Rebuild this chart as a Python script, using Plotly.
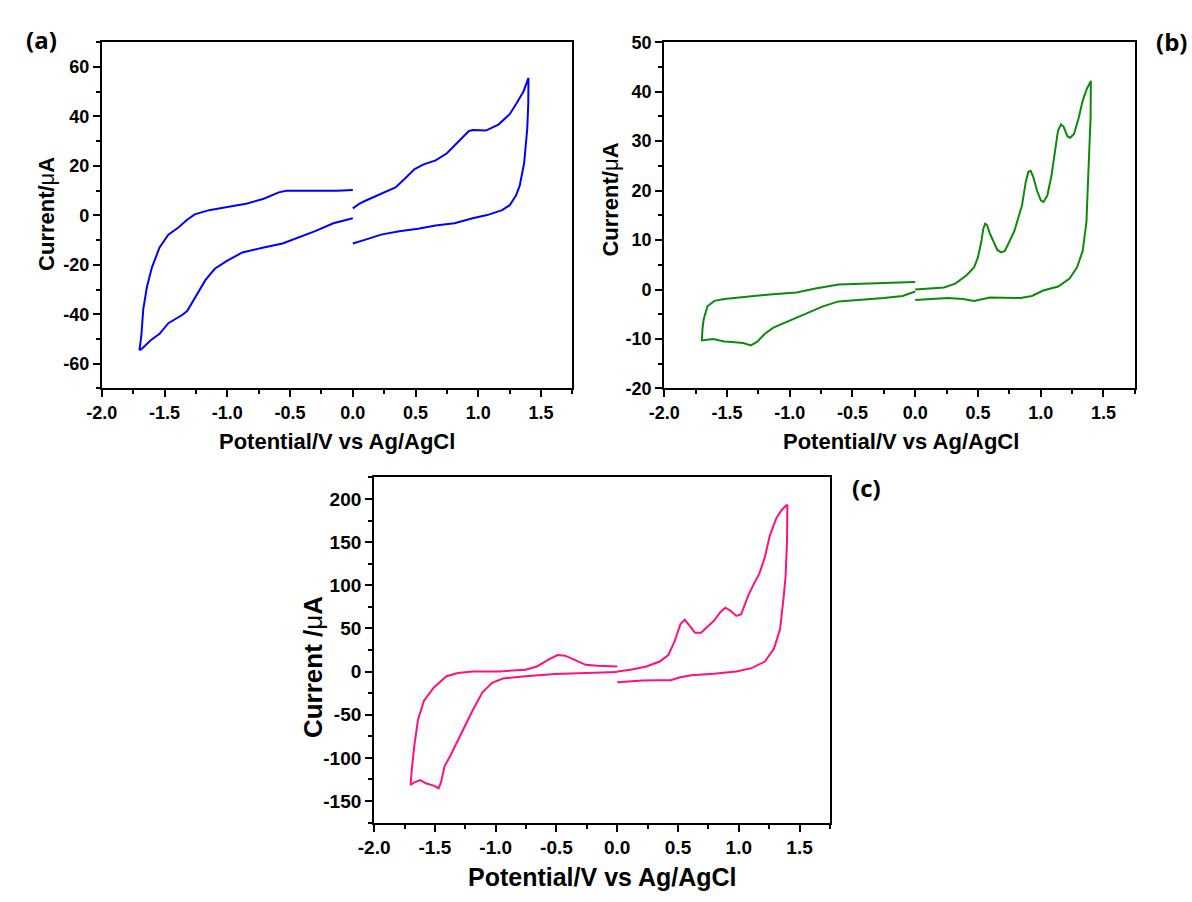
import plotly.graph_objects as go

# ---------------- data ----------------
# Panel (a)
a_right_x = [0.0, 0.05, 0.1, 0.225, 0.34, 0.41, 0.49, 0.56, 0.66, 0.75, 0.84, 0.925, 0.96, 1.06, 1.16, 1.25, 1.30, 1.36, 1.40,
             1.398, 1.39, 1.38, 1.365, 1.35, 1.33, 1.30, 1.25, 1.19, 1.07, 0.955, 0.81, 0.66, 0.52, 0.37, 0.225, 0.108, 0.0]
a_right_y = [2.8, 4.6, 5.9, 8.7, 11.3, 14.6, 18.6, 20.5, 22.2, 25.1, 29.7, 34.1, 34.5, 34.3, 36.7, 40.9, 44.9, 50.1, 55.6,
             45.0, 35.0, 27.8, 21.0, 17.2, 12.0, 8.0, 4.1, 2.1, 0.1, -1.2, -3.2, -4.1, -5.4, -6.4, -7.8, -9.7, -11.4]
a_left_x = [0.0, -0.155, -0.30, -0.42, -0.56, -0.71, -0.88, -1.0, -1.10, -1.175, -1.25, -1.32, -1.36, -1.44, -1.47, -1.54, -1.61, -1.685, -1.70,
            -1.685, -1.67, -1.64, -1.60, -1.54, -1.47, -1.39, -1.32, -1.26, -1.20, -1.145, -1.0, -0.85, -0.71, -0.59, -0.53, -0.36, -0.125, 0.0]
a_left_y = [-1.2, -3.2, -6.4, -8.8, -11.4, -13.0, -15.0, -18.3, -21.6, -26.2, -32.8, -38.7, -40.3, -42.6, -43.6, -47.9, -50.5, -54.1, -54.5,
            -48.6, -38.0, -28.8, -20.9, -13.0, -7.8, -4.9, -1.8, 0.4, 1.4, 2.1, 3.4, 4.7, 6.7, 9.3, 9.9, 9.9, 9.9, 10.3]

# Panel (b)
b_right_x = [0.0, 0.11, 0.23, 0.32, 0.41, 0.47, 0.50, 0.528, 0.543, 0.558, 0.573, 0.594, 0.625, 0.655, 0.685, 0.715, 0.79,
             0.851, 0.881, 0.902, 0.92, 0.941, 0.971, 1.002, 1.023, 1.053, 1.086, 1.114, 1.138, 1.162, 1.183, 1.213, 1.235,
             1.265, 1.304, 1.334, 1.365, 1.40,
             1.398, 1.38, 1.365, 1.335, 1.29, 1.23, 1.14, 1.02, 0.93, 0.84, 0.715, 0.595, 0.47, 0.38, 0.26, 0.14, 0.0]
b_right_y = [0.0, 0.16, 0.4, 1.2, 2.9, 4.5, 6.5, 9.8, 12.3, 13.3, 13.0, 11.4, 9.5, 8.0, 7.5, 7.8, 11.8,
             17.0, 21.7, 23.8, 24.0, 22.8, 20.0, 18.0, 17.7, 19.0, 23.0, 28.2, 32.1, 33.4, 32.9, 31.0, 30.7,
             31.4, 34.8, 38.1, 40.4, 42.2,
             34.8, 23.6, 13.7, 7.8, 4.5, 2.2, 0.6, -0.2, -1.3, -1.7, -1.7, -1.6, -2.3, -1.9, -1.7, -1.9, -2.1]
b_left_x = [0.0, -0.10, -0.25, -0.43, -0.61, -0.735, -0.855, -0.98, -1.13, -1.20, -1.26, -1.31, -1.37, -1.46, -1.52, -1.61, -1.685, -1.70,
            -1.695, -1.685, -1.655, -1.60, -1.52, -1.34, -1.16, -0.945, -0.795, -0.61, -0.43, -0.19, 0.0]
b_left_y = [-0.4, -1.3, -1.7, -2.1, -2.4, -3.4, -4.7, -6.0, -7.7, -9.0, -10.6, -11.3, -10.8, -10.6, -10.5, -10.0, -10.3, -10.3,
            -8.0, -6.0, -3.4, -2.3, -1.9, -1.4, -1.0, -0.6, 0.2, 1.0, 1.2, 1.35, 1.5]

# Panel (c)
c_right_x = [0.0, 0.11, 0.24, 0.35, 0.42, 0.47, 0.52, 0.555, 0.595, 0.64, 0.69, 0.735, 0.795, 0.85, 0.89, 0.935, 0.98, 1.02,
             1.075, 1.12, 1.17, 1.215, 1.255, 1.31, 1.355, 1.39, 1.40,
             1.397, 1.385, 1.37, 1.34, 1.29, 1.215, 1.105, 0.98, 0.795, 0.61, 0.52, 0.44, 0.33, 0.21, 0.0]
c_right_y = [0.2, 2.0, 5.9, 11.6, 19.1, 34.3, 55.0, 60.0, 53.2, 44.9, 44.9, 51.3, 58.9, 69.1, 74.0, 70.2, 64.5, 66.4,
             87.2, 100.5, 113.7, 132.7, 157.2, 178.1, 187.5, 192.4, 193.2,
             150.0, 110.0, 87.2, 49.4, 26.7, 11.6, 4.0, 0.2, -2.4, -4.3, -6.6, -10.0, -10.0, -10.4, -12.3]
c_left_x = [0.0, -0.195, -0.51, -0.755, -0.94, -1.03, -1.11, -1.19, -1.28, -1.375, -1.42, -1.45, -1.47, -1.51, -1.575, -1.62, -1.67, -1.70,
            -1.69, -1.67, -1.64, -1.59, -1.51, -1.405, -1.31, -1.19, -0.97, -0.755, -0.66, -0.57, -0.49, -0.43, -0.35, -0.26, -0.165, 0.0]
c_left_y = [-0.5, -1.7, -2.8, -5.5, -8.1, -13.0, -24.4, -45.2, -71.7, -98.2, -109.5, -128.4, -135.2, -132.2, -129.5, -125.8, -128.4, -131.4,
            -113.3, -86.8, -56.5, -33.8, -18.7, -5.4, -1.7, 0.2, 0.2, 2.1, 5.9, 13.5, 19.1, 18.4, 13.5, 7.8, 6.7, 5.9]

# ticks
x_tick_vals = [-2.0, -1.5, -1.0, -0.5, 0.0, 0.5, 1.0, 1.5]
x_tick_labels = ["-2.0", "-1.5", "-1.0", "-0.5", "0.0", "0.5", "1.0", "1.5"]
a_y_tick_vals = [-60, -40, -20, 0, 20, 40, 60]
a_y_tick_labels = ["-60", "-40", "-20", "0", "20", "40", "60"]
b_y_tick_vals = [-20, -10, 0, 10, 20, 30, 40, 50]
b_y_tick_labels = ["-20", "-10", "0", "10", "20", "30", "40", "50"]
c_y_tick_vals = [-150, -100, -50, 0, 50, 100, 150, 200]
c_y_tick_labels = ["-150", "-100", "-50", "0", "50", "100", "150", "200"]

panel_labels = ["(a)", "(b)", "(c)"]
x_title = "Potential/V vs Ag/AgCl"
a_y_title = "Current/<span style='font-weight:normal'>μ</span>A"
c_y_title = "Current /<span style='font-weight:normal'>μ</span>A"

# ---------------- figure ----------------
W, H = 1192, 902
fig = go.Figure()

colors = {"a": "#0000FF", "b": "#0B8A0B", "c": "#FF0F80"}

def add_curve(xs, ys, axn, color):
    fig.add_trace(go.Scatter(x=xs, y=ys, mode="lines", xaxis="x" + axn, yaxis="y" + axn,
                             line=dict(color=color, width=2), showlegend=False, hoverinfo="skip"))

add_curve(a_right_x, a_right_y, "", colors["a"])
add_curve(a_left_x, a_left_y, "", colors["a"])
add_curve(b_right_x, b_right_y, "2", colors["b"])
add_curve(b_left_x, b_left_y, "2", colors["b"])
add_curve(c_right_x, c_right_y, "3", colors["c"])
add_curve(c_left_x, c_left_y, "3", colors["c"])

def px_dom(x0, x1):
    return [x0 / W, x1 / W]

def py_dom(top, bottom):
    return [1 - bottom / H, 1 - top / H]

tickfont_ab = dict(family="Liberation Sans, Arial", size=18, color="black", weight="bold")
tickfont_c = dict(family="Liberation Sans, Arial", size=19, color="black", weight="bold")

def xaxis(domain, anchor, tf):
    return dict(domain=domain, anchor=anchor, range=[-2.0, 1.75], tickmode="array",
                tickvals=x_tick_vals, ticktext=x_tick_labels, ticks="outside", ticklen=7, tickwidth=1.5,
                tickcolor="black", showline=True, linewidth=2, linecolor="black", mirror=True,
                showgrid=False, zeroline=False, tickfont=tf,
                minor=dict(tickmode="linear", tick0=-2.0, dtick=0.25, ticks="outside", ticklen=4,
                           tickwidth=1.5, tickcolor="black", showgrid=False))

def yaxis(domain, anchor, rng, vals, labels, mdt, tf):
    return dict(domain=domain, anchor=anchor, range=rng, tickmode="array",
                tickvals=vals, ticktext=labels, ticks="outside", ticklen=7, tickwidth=1.5,
                tickcolor="black", showline=True, linewidth=2, linecolor="black", mirror=True,
                showgrid=False, zeroline=False, tickfont=tf,
                minor=dict(tickmode="linear", tick0=rng[0], dtick=mdt, ticks="outside", ticklen=4,
                           tickwidth=1.5, tickcolor="black", showgrid=False))

fig.update_layout(
    width=W, height=H, margin=dict(l=0, r=0, t=0, b=0),
    paper_bgcolor="white", plot_bgcolor="white",
    xaxis=xaxis(px_dom(87, 564), "y", tickfont_ab),
    yaxis=yaxis(py_dom(33, 387), "x", [-70, 70], a_y_tick_vals, a_y_tick_labels, 10, tickfont_ab),
    xaxis2=xaxis(px_dom(657, 1134), "y2", tickfont_ab),
    yaxis2=yaxis(py_dom(33, 387), "x2", [-20, 50], b_y_tick_vals, b_y_tick_labels, 5, tickfont_ab),
    xaxis3=xaxis(px_dom(363, 825), "y3", tickfont_c),
    yaxis3=yaxis(py_dom(478, 831), "x3", [-175, 225], c_y_tick_vals, c_y_tick_labels, 25, tickfont_c),
)

def ann(text, cx, cy, size, family="Liberation Sans, Arial", angle=0):
    fig.add_annotation(text=text, x=cx / W, y=1 - cy / H, xref="paper", yref="paper",
                       xanchor="center", yanchor="middle", showarrow=False, textangle=angle,
                       font=dict(family=family, size=size, color="black", weight="bold"))

# axis titles
ann(x_title, 325, 441, 22)
ann(x_title, 897, 441, 22)
ann(x_title, 594, 887, 25)
ann(a_y_title, 31, 209, 22, angle=-90)
ann(a_y_title, 603, 194, 22, angle=-90)
ann(c_y_title, 301, 672, 26, angle=-90)

# panel labels
ann(panel_labels[0], 26, 30, 24, family="Open Sans, Lato")
ann(panel_labels[1], 1171, 32, 24, family="Open Sans, Lato")
ann(panel_labels[2], 862, 488, 24, family="Open Sans, Lato")

fig.write_html("out.html", config={"displayModeBar": False},
               post_script="document.body.style.margin='0px';document.body.style.overflow='hidden';")
